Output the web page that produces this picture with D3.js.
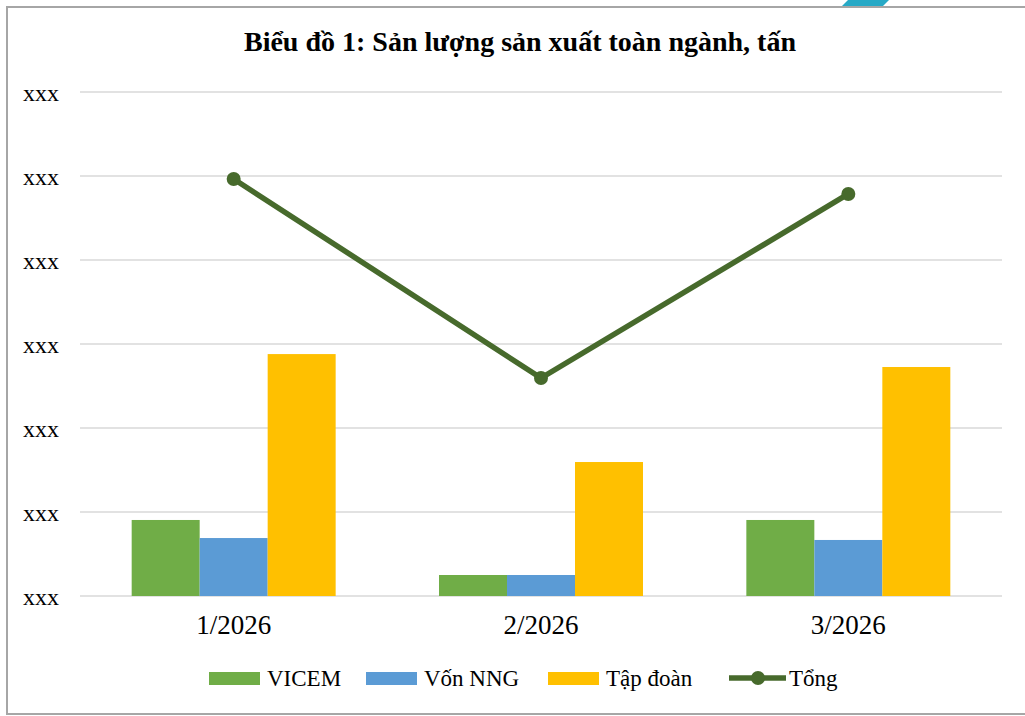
<!DOCTYPE html>
<meta charset="utf-8">
<style>
body { margin: 0; background: #fff; }
text { font-family: "Liberation Serif", "DejaVu Serif", serif; }
</style>
<body>
<script src="https://cdn.jsdelivr.net/npm/d3@7/dist/d3.min.js"></script>
<script>

// data (units = one gridline step)
var months = ["1/2026", "2/2026", "3/2026"];
var series = ["VICEM", "Vốn NNG", "Tập đoàn"];
var vicem = [0.905, 0.25, 0.905];
var vonNNG = [0.69, 0.25, 0.667];
var tapDoan = [2.88, 1.595, 2.726];
var tong = [4.964, 2.595, 4.786];
var yTicks = [0, 1, 2, 3, 4, 5, 6];
var yTickLabels = ["xxx", "xxx", "xxx", "xxx", "xxx", "xxx", "xxx"];
var colors = ["#70ad47", "#5b9bd5", "#ffc000"];
var lineColor = "#476a2c";

var width = 1025, height = 716;
var svg = d3.select("body").append("svg")
    .attr("width", width)
    .attr("height", height);

// outer frame + corner decoration
svg.append("path")
    .attr("d", "M841,7 L848,0 L889,0 L882,7 Z")
    .attr("fill", "#27a9c6");
svg.append("rect")
    .attr("x", 7).attr("y", 7)
    .attr("width", 1030).attr("height", 707)
    .attr("fill", "none")
    .attr("stroke", "#a6a6a6")
    .attr("stroke-width", 2);

svg.append("text")
    .attr("x", 520).attr("y", 51)
    .attr("text-anchor", "middle")
    .attr("font-weight", "bold")
    .attr("font-size", 28)
    .text("Biểu đồ 1: Sản lượng sản xuất toàn ngành, tấn");

var x0 = d3.scaleBand().domain(months).range([80, 1002]);
var x1 = d3.scaleBand().domain(series).range([0, x0.bandwidth()])
    .paddingInner(0).paddingOuter(0.76);
var y = d3.scaleLinear().domain([0, 6]).range([596, 92]);

// gridlines
svg.append("g")
  .selectAll("line")
  .data(yTicks)
  .enter().append("line")
    .attr("x1", 80).attr("x2", 1002)
    .attr("y1", function(d) { return y(d); })
    .attr("y2", function(d) { return y(d); })
    .attr("stroke", "#d9d9d9")
    .attr("stroke-width", 1.5);

// y axis labels
svg.append("g")
  .selectAll("text")
  .data(yTicks)
  .enter().append("text")
    .attr("x", 41)
    .attr("y", function(d) { return y(d) + 9; })
    .attr("text-anchor", "middle")
    .attr("font-size", 24)
    .text(function(d, i) { return yTickLabels[i]; });

// bars
var seriesData = [vicem, vonNNG, tapDoan];
series.forEach(function(s, si) {
  svg.append("g")
    .selectAll("rect")
    .data(seriesData[si])
    .enter().append("rect")
      .attr("x", function(d, i) { return x0(months[i]) + x1(s); })
      .attr("width", x1.bandwidth())
      .attr("y", function(d) { return y(d); })
      .attr("height", function(d) { return y(0) - y(d); })
      .attr("fill", colors[si]);
});

// x labels
svg.append("g")
  .selectAll("text")
  .data(months)
  .enter().append("text")
    .attr("x", function(d) { return x0(d) + x0.bandwidth() / 2; })
    .attr("y", 634)
    .attr("text-anchor", "middle")
    .attr("font-size", 27)
    .text(function(d) { return d; });

// total line
var line = d3.line()
    .x(function(d, i) { return x0(months[i]) + x0.bandwidth() / 2; })
    .y(function(d) { return y(d); });
svg.append("path")
    .datum(tong)
    .attr("d", line)
    .attr("fill", "none")
    .attr("stroke", lineColor)
    .attr("stroke-width", 5.5);
svg.append("g")
  .selectAll("circle")
  .data(tong)
  .enter().append("circle")
    .attr("cx", function(d, i) { return x0(months[i]) + x0.bandwidth() / 2; })
    .attr("cy", function(d) { return y(d); })
    .attr("r", 7)
    .attr("fill", lineColor);

// legend
var legX = [209, 366, 548];
series.forEach(function(s, si) {
  svg.append("rect")
    .attr("x", legX[si]).attr("y", 672)
    .attr("width", 51).attr("height", 13)
    .attr("fill", colors[si]);
  svg.append("text")
    .attr("x", legX[si] + 58).attr("y", 686)
    .attr("font-size", 23)
    .text(s);
});
svg.append("line")
    .attr("x1", 729).attr("x2", 786)
    .attr("y1", 678).attr("y2", 678)
    .attr("stroke", lineColor)
    .attr("stroke-width", 5.5);
svg.append("circle")
    .attr("cx", 758).attr("cy", 678).attr("r", 7)
    .attr("fill", lineColor);
svg.append("text")
    .attr("x", 789).attr("y", 686)
    .attr("font-size", 23)
    .text("Tổng");

</script>
</body>
